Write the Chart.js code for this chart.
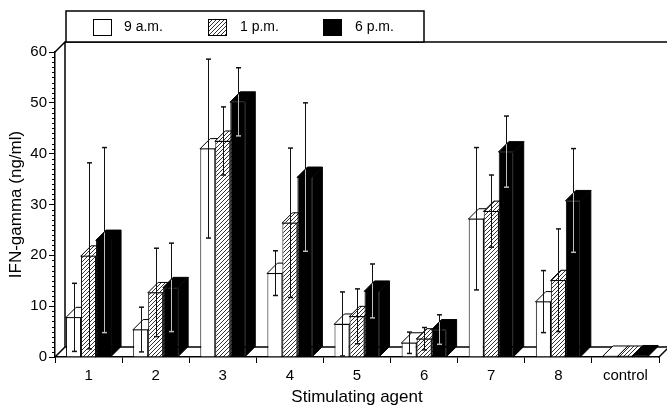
<!DOCTYPE html>
<html><head><meta charset="utf-8">
<script src="https://cdn.jsdelivr.net/npm/chart.js@4.4.0/dist/chart.umd.min.js"></script>
<style>html,body{margin:0;padding:0;background:#fff}canvas{display:block}</style>
</head><body>
<canvas id="c" width="667" height="407"></canvas>
<script>
const categories = ['1','2','3','4','5','6','7','8','control'];
const seriesNames = ['9 a.m.','1 p.m.','6 p.m.'];
const am9    = [7.8, 5.4, 41.0, 16.5, 6.5, 2.8, 27.2, 10.9, 0.2];
const am9Err = [6.7, 4.4, 17.6, 4.4, 6.3, 2.1, 14.0, 6.1, 0];
const pm1    = [19.9, 12.7, 42.5, 26.4, 8.0, 3.6, 28.7, 15.1, 0.2];
const pm1Err = [18.3, 8.7, 6.7, 14.7, 5.4, 2.2, 7.1, 10.1, 0];
const pm6    = [23.0, 13.7, 50.2, 35.4, 13.0, 5.4, 40.4, 30.8, 0.3];
const pm6Err = [18.2, 8.7, 6.7, 14.6, 5.3, 2.9, 7.0, 10.2, 0];
const yMin = 0, yMax = 60, yStep = 10;
const errors = [am9Err, pm1Err, pm6Err];

const FONT = '"Liberation Sans", Arial, Helvetica, sans-serif';
const DX = 10, DY = 10;

function makeHatch() {
  const s = 4;
  const c = document.createElement('canvas');
  c.width = s; c.height = s;
  const g = c.getContext('2d');
  g.fillStyle = '#fff'; g.fillRect(0, 0, s, s);
  g.strokeStyle = '#1a1a1a'; g.lineWidth = 0.9;
  g.beginPath();
  g.moveTo(-1, s + 1); g.lineTo(s + 1, -1);
  g.moveTo(-1, 1); g.lineTo(1, -1);
  g.moveTo(s - 1, s + 1); g.lineTo(s + 1, s - 1);
  g.stroke();
  return g.createPattern(c, 'repeat');
}
const ctx = document.getElementById('c').getContext('2d');
const hatch = makeHatch();
const fills = ['#ffffff', hatch, '#000000'];

const depthPlugin = {
  id: 'depth3d',
  beforeDatasetsDraw(chart) {
    const c = chart.ctx;
    const {left, right, top, bottom} = chart.chartArea;
    c.save();
    c.strokeStyle = '#000'; c.lineWidth = 1.5; c.lineCap = 'square';
    c.beginPath();
    c.moveTo(left, top); c.lineTo(left + DX, top - DY); c.lineTo(chart.width, top - DY);
    c.moveTo(left + DX, top - DY); c.lineTo(left + DX, bottom - DY);
    c.moveTo(left, bottom); c.lineTo(left + DX, bottom - DY); c.lineTo(chart.width, bottom - DY);
    c.moveTo(right, bottom); c.lineTo(right + DX, bottom - DY);
    c.stroke();
    c.lineWidth = 1; c.lineJoin = 'miter';
    const n = chart.data.labels.length;
    for (let i = 0; i < n; i++) {
      for (let d = 0; d < chart.data.datasets.length; d++) {
        const el = chart.getDatasetMeta(d).data[i];
        const x0 = el.x - el.width / 2, x1 = el.x + el.width / 2;
        const yt = el.y, yb = el.base;
        c.fillStyle = fills[d];
        // side face
        c.beginPath();
        c.moveTo(x1, yt); c.lineTo(x1 + DX, yt - DY); c.lineTo(x1 + DX, yb - DY); c.lineTo(x1, yb); c.closePath();
        c.fill(); c.stroke();
        // top face
        c.beginPath();
        c.moveTo(x0, yt); c.lineTo(x0 + DX, yt - DY); c.lineTo(x1 + DX, yt - DY); c.lineTo(x1, yt); c.closePath();
        c.fill(); c.stroke();
      }
    }
    c.restore();
  },
  afterDatasetsDraw(chart) {
    const c = chart.ctx;
    const ys = chart.scales.y;
    const {left} = chart.chartArea;
    c.save();
    // minor ticks
    c.strokeStyle = '#000'; c.lineWidth = 1;
    c.beginPath();
    for (let v = yMin; v <= yMax; v++) {
      if (v % yStep === 0) continue;
      const py = Math.round(ys.getPixelForValue(v)) + 0.5;
      c.moveTo(left - 3, py); c.lineTo(left, py);
    }
    c.stroke();
    // error bars
    for (let d = 0; d < chart.data.datasets.length; d++) {
      const meta = chart.getDatasetMeta(d);
      const vals = chart.data.datasets[d].data;
      meta.data.forEach((el, i) => {
        const e = errors[d][i];
        if (!e) return;
        const v = vals[i];
        const x = Math.round(el.x) + 0.5;
        const yTop = ys.getPixelForValue(v + e);
        const yBot = ys.getPixelForValue(Math.max(0, v - e));
        let split = yBot;
        if (d === 2) {
          const x0 = el.x - el.width / 2;
          split = el.y - Math.min(DY, (el.x - x0));
          if (split < yTop) split = yTop;
        }
        c.lineWidth = 1;
        c.strokeStyle = '#111';
        c.beginPath(); c.moveTo(x, yTop); c.lineTo(x, split); c.stroke();
        c.lineWidth = 1.5;
        c.beginPath(); c.moveTo(x - 2.5, yTop); c.lineTo(x + 2.5, yTop); c.stroke();
        if (d === 2) {
          c.strokeStyle = '#bdbdbd'; c.lineWidth = 1;
          c.beginPath(); c.moveTo(x, split); c.lineTo(x, yBot); c.stroke();
          c.lineWidth = 1.5;
          c.beginPath(); c.moveTo(x - 2.5, yBot); c.lineTo(x + 2.5, yBot); c.stroke();
        } else {
          c.beginPath(); c.moveTo(x - 2.5, yBot); c.lineTo(x + 2.5, yBot); c.stroke();
        }
      });
    }
    c.restore();
  },
  afterDraw(chart) {
    const c = chart.ctx;
    c.save();
    // legend box
    c.strokeStyle = '#000'; c.lineWidth = 1.5;
    c.fillStyle = '#fff';
    c.fillRect(66, 11, 358, 31);
    c.strokeRect(66, 11, 358, 31);
    const boxes = [93, 208, 323];
    const texts = [124, 240, 355];
    c.lineWidth = 1;
    chart.data.datasets.forEach((ds, d) => {
      c.fillStyle = fills[d];
      c.fillRect(boxes[d] + 0.5, 19.5, 18, 16);
      c.strokeStyle = '#000';
      c.strokeRect(boxes[d] + 0.5, 19.5, 18, 16);
      c.fillStyle = '#000';
      c.font = '14px ' + FONT;
      c.textBaseline = 'middle'; c.textAlign = 'left';
      c.fillText(ds.label, texts[d], 27.5);
    });
    c.restore();
  }
};

new Chart(ctx, {
  type: 'bar',
  data: {
    labels: categories,
    datasets: [
      {label: seriesNames[0], data: am9, backgroundColor: fills[0], borderColor: '#000', borderWidth: 1},
      {label: seriesNames[1], data: pm1, backgroundColor: fills[1], borderColor: '#000', borderWidth: 1},
      {label: seriesNames[2], data: pm6, backgroundColor: fills[2], borderColor: '#000', borderWidth: 1}
    ]
  },
  options: {
    responsive: false,
    animation: false,
    devicePixelRatio: 1,
    layout: {padding: {top: 52, right: 8, left: 0, bottom: 0}},
    plugins: {legend: {display: false}, tooltip: {enabled: false}},
    datasets: {bar: {categoryPercentage: 45 / 67.11, barPercentage: 1, borderSkipped: 'start'}},
    scales: {
      x: {
        z: 1,
        grid: {display: true, drawOnChartArea: false, drawTicks: true, tickLength: 6, color: '#000', lineWidth: 1, offset: true},
        border: {display: true, color: '#000', width: 1.5},
        ticks: {font: {family: FONT, size: 15}, color: '#000', padding: 4, maxRotation: 0, autoSkip: false},
        title: {display: true, text: 'Stimulating agent', font: {family: FONT, size: 17}, color: '#000', padding: {top: 0, bottom: -1}},
        afterFit(s) { s.height = 50; }
      },
      y: {
        min: yMin, max: yMax,
        grid: {display: true, drawOnChartArea: false, drawTicks: true, tickLength: 6, color: '#000', lineWidth: 1},
        border: {display: true, color: '#000', width: 1.5},
        ticks: {stepSize: yStep, font: {family: FONT, size: 15}, color: '#000', padding: 2},
        title: {display: true, text: 'IFN-gamma (ng/ml)', font: {family: FONT, size: 17}, color: '#000', padding: {top: 6, bottom: 0}},
        afterFit(s) { s.width = 55; }
      }
    }
  },
  plugins: [depthPlugin]
});
</script>
</body></html>
